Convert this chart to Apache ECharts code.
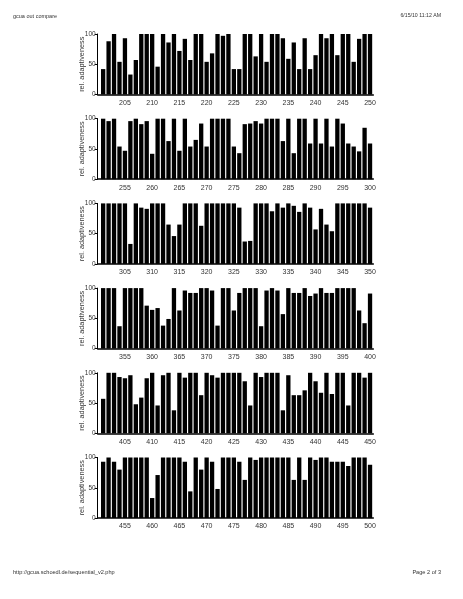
<!DOCTYPE html>
<html><head><meta charset="utf-8">
<script src="https://cdn.jsdelivr.net/npm/echarts@6/dist/echarts.min.js"></script>
<style>html,body{margin:0;padding:0;background:#fff}#c{width:463px;height:599px}</style>
</head><body><div id="c"></div>
<script>
// Codon positions where each panel starts
const panelStarts = [201, 251, 301, 351, 401, 451];

// Relative adaptiveness per codon
const values201 = [42,88,100,54,93,33,57,100,100,100, 46,100,86,100,72,92,57,100,100,54, 68,100,97,100,42,42,100,100,63,100, 54,100,100,93,59,86,42,93,42,65, 100,93,100,65,100,100,54,92,100,100];
const values251 = [100,96,100,54,47,96,100,91,96,42, 100,100,63,100,47,100,54,65,92,54, 100,100,100,100,54,43,91,92,96,92, 100,100,100,63,100,43,100,100,59,100, 59,100,54,100,92,59,54,46,85,59];
const values301 = [100,100,100,100,100,33,100,93,91,100, 100,100,65,46,65,100,100,100,63,100, 100,100,100,100,100,93,37,38,100,100, 100,87,100,93,100,96,86,100,93,57, 91,65,54,100,100,100,100,100,100,93];
const values351 = [100,100,100,37,100,100,100,100,71,64, 67,38,49,100,63,96,92,92,100,100, 96,38,100,100,63,92,100,100,100,37, 96,100,96,57,100,92,92,100,87,91, 100,92,92,100,100,100,100,63,42,91];
const values401 = [57,100,100,93,91,96,48,59,91,100, 46,96,100,38,100,92,100,100,63,100, 96,92,100,100,100,100,86,46,100,93, 100,100,100,38,96,63,63,71,100,86, 67,100,65,100,100,46,100,100,92,100];
const values451 = [93,100,93,80,100,100,100,100,100,33, 71,100,100,100,100,93,44,100,80,100, 93,48,100,100,100,93,63,100,96,100, 100,100,100,100,100,63,100,63,100,96, 100,100,93,93,93,86,100,100,100,88];

const xTickStep = 5;
const yTickStep = 50;
const yMax = 100;
const yAxisName = 'rel. adaptiveness';
const headerLeft = 'gcua out compare';
const headerRight = '6/15/10 11:12 AM';
const footerLeft = 'http://gcua.schoedl.de/sequential_v2.php';
const footerRight = 'Page 2 of 3';

const panels = [values201, values251, values301, values351, values401, values451];

const chart = echarts.init(document.getElementById('c'), null, {renderer: 'canvas'});
const FONT = 'Liberation Sans, Arial, sans-serif';
const grids = [], xAxes = [], yAxes = [], series = [];

panels.forEach((vals, i) => {
  const start = panelStarts[i];
  const minX = start - 1;
  grids.push({left: 97.7, width: 275.6, top: 34 + 84.7 * i, height: 60.5});
  xAxes.push({
    type: 'value', gridIndex: i, min: minX, max: start + vals.length - 1 + 0.6, interval: xTickStep,
    axisLine: {show: true, onZero: false, lineStyle: {color: '#000', width: 1.5}},
    axisTick: {show: false},
    splitLine: {show: false},
    axisLabel: {
      fontSize: 7, fontFamily: FONT, color: '#333', margin: 5,
      formatter: v => (v > minX && Number.isInteger(v) && v % xTickStep === 0) ? String(v) : ''
    }
  });
  yAxes.push({
    type: 'value', gridIndex: i, min: 0, max: yMax, interval: yTickStep,
    axisLine: {show: true, onZero: false, lineStyle: {color: '#000', width: 1}},
    axisTick: {show: true, length: 3, lineStyle: {color: '#000'}},
    splitLine: {show: false},
    axisLabel: {fontSize: 6.5, fontFamily: FONT, color: '#333', margin: 2},
    name: yAxisName, nameLocation: 'middle', nameGap: 12, nameMoveOverlap: false,
    nameTextStyle: {fontSize: 7.3, fontFamily: FONT, color: '#333'}
  });
  series.push({
    type: 'bar', xAxisIndex: i, yAxisIndex: i, barWidth: 4.3,
    itemStyle: {color: '#000'},
    data: vals.map((v, k) => [start + k, v])
  });
});

chart.setOption({
  animation: false,
  backgroundColor: '#fff',
  grid: grids, xAxis: xAxes, yAxis: yAxes, series: series,
  graphic: [
    {type: 'text', left: 13, top: 13, style: {text: headerLeft, fontSize: 5.5, fontFamily: FONT, fill: '#333'}},
    {type: 'text', right: 22, top: 13, style: {text: headerRight, fontSize: 5.2, fontFamily: FONT, fill: '#333'}},
    {type: 'text', left: 13, top: 569, style: {text: footerLeft, fontSize: 5.6, fontFamily: FONT, fill: '#333'}},
    {type: 'text', right: 22, top: 569, style: {text: footerRight, fontSize: 5.6, fontFamily: FONT, fill: '#333'}}
  ]
});
</script>
</body></html>
